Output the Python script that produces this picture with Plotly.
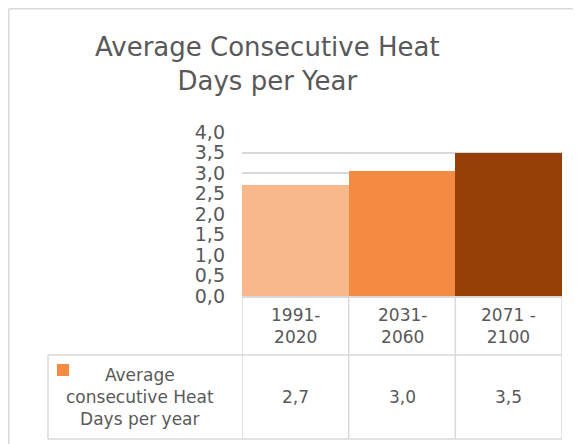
import plotly.graph_objects as go

categories = ["1991-<br>2020", "2031-<br>2060", "2071 -<br>2100"]
values = [2.7, 3.04, 3.5]
bar_colors = ["#F8B88B", "#F58B43", "#953F07"]
series_name = "Average<br>consecutive Heat<br>Days per year"
title_text = "Average Consecutive Heat<br>Days per Year"
y_ticks = [0.0, 0.5, 1.0, 1.5, 2.0, 2.5, 3.0, 3.5, 4.0]

OFF = 8  # page body margin
W, H = 581 - OFF, 444 - OFF
L, R, T, B = 242, 562, 132, 296  # plot area in page pixels
PW, PH = R - L, B - T


def px(x):
    return (x - L) / PW


def py(y):
    return (B - y) / PH


FONT = "DejaVu Sans"
TXT = "#595959"
GRID = "#D9D9D9"

fig = go.Figure()
fig.add_trace(go.Bar(
    x=categories, y=values, marker=dict(color=bar_colors, line=dict(width=0)),
    showlegend=False, hoverinfo="skip",
))

shapes = []
# outer chart border (left + top)
bx, by = OFF + 0.8, OFF + 0.8
shapes.append(dict(type="line", xref="paper", yref="paper", x0=px(bx), x1=px(600), y0=py(by), y1=py(by),
                   line=dict(color=GRID, width=1.5)))
shapes.append(dict(type="line", xref="paper", yref="paper", x0=px(bx), x1=px(bx), y0=py(by), y1=py(470),
                   line=dict(color=GRID, width=1.5)))
# data table vertical lines at category boundaries
n = len(categories)
for i in range(n + 1):
    shapes.append(dict(type="line", xref="x", yref="paper", x0=i - 0.5, x1=i - 0.5, y0=0, y1=py(439),
                       line=dict(color=GRID, width=1.5)))
# table horizontal lines
for yy in (355, 439):
    shapes.append(dict(type="line", xref="paper", yref="paper", x0=px(48), x1=1, y0=py(yy), y1=py(yy),
                       line=dict(color=GRID, width=1.5)))
# left edge of series row
shapes.append(dict(type="line", xref="paper", yref="paper", x0=px(48), x1=px(48), y0=py(355), y1=py(439),
                   line=dict(color=GRID, width=1.5)))
# legend key
shapes.append(dict(type="rect", xref="paper", yref="paper", x0=px(57), x1=px(69), y0=py(364), y1=py(376),
                   fillcolor=bar_colors[1], line=dict(width=0)))

annotations = []
# title
annotations.append(dict(text=title_text, xref="paper", yref="paper", x=px(267), y=py(64),
                        xanchor="center", yanchor="middle", showarrow=False,
                        font=dict(family=FONT, size=26, color=TXT)))
# category labels row
for c in categories:
    annotations.append(dict(text=c, xref="x", yref="paper", x=c, y=py(326), xanchor="center",
                            yanchor="middle", showarrow=False, font=dict(family=FONT, size=17, color=TXT)))
# values row
for c, v in zip(categories, values):
    annotations.append(dict(text=f"{v:.1f}".replace(".", ","), xref="x", yref="paper", x=c, y=py(397),
                            xanchor="center", yanchor="middle", showarrow=False,
                            font=dict(family=FONT, size=17, color=TXT)))
# series name
annotations.append(dict(text=series_name, xref="paper", yref="paper", x=px(140), y=py(397),
                        xanchor="center", yanchor="middle", showarrow=False,
                        font=dict(family=FONT, size=17, color=TXT)))

fig.update_layout(
    width=W, height=H,
    margin=dict(l=L - OFF, r=W - (R - OFF), t=T - OFF, b=H - (B - OFF), pad=0),
    paper_bgcolor="white", plot_bgcolor="white",
    bargap=0,
    separators=",.",
    shapes=shapes, annotations=annotations,
    xaxis=dict(type="category", showticklabels=False, showgrid=False, zeroline=False,
               showline=True, linecolor=GRID, linewidth=1.5, range=[-0.5, n - 0.5], fixedrange=True),
    yaxis=dict(range=[0, 4], tickmode="array", tickvals=y_ticks, tickformat=".1f",
               showgrid=True, gridcolor=GRID, gridwidth=1.5, zeroline=False, showline=False,
               ticks="", ticklabelstandoff=16,
               tickfont=dict(family=FONT, size=19, color=TXT), fixedrange=True),
)

fig.write_html("out.html", config={"displayModeBar": False})
